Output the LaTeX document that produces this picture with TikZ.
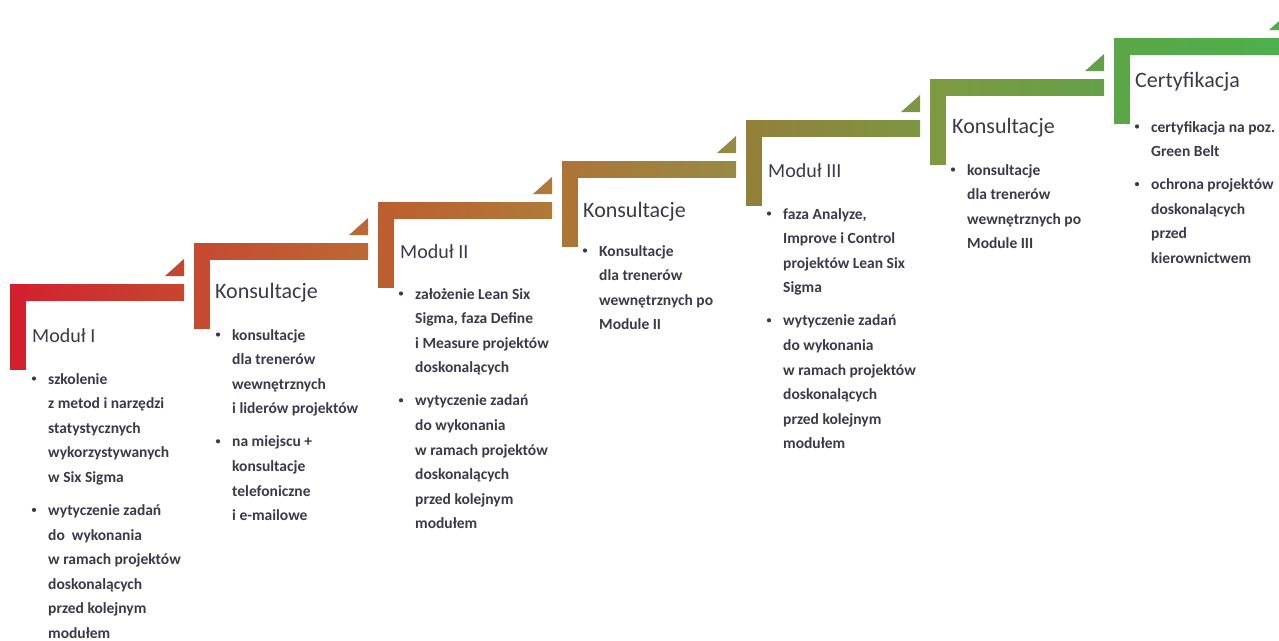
\documentclass[tikz,border=0pt]{standalone}
\usepackage{fontspec}
\setmainfont{Carlito}
\definecolor{textc}{HTML}{3A3A4A}
\definecolor{c1L}{HTML}{D2202F}\definecolor{c1R}{HTML}{C5472F}
\definecolor{c2L}{HTML}{C54A30}\definecolor{c2R}{HTML}{BC6835}
\definecolor{c3L}{HTML}{BC5E30}\definecolor{c3R}{HTML}{AF7A38}
\definecolor{c4L}{HTML}{AC7536}\definecolor{c4R}{HTML}{978A45}
\definecolor{c5L}{HTML}{928039}\definecolor{c5R}{HTML}{7E9543}
\definecolor{c6L}{HTML}{7E9A40}\definecolor{c6R}{HTML}{64A048}
\definecolor{c7L}{HTML}{5BA646}\definecolor{c7R}{HTML}{4CB04E}
\tikzset{
  txt/.style={inner sep=0pt, text=textc, font=\fontsize{15.5}{24.6}\selectfont\bfseries},
  head/.style={inner sep=0pt, anchor=base west, text=textc, font=\fontsize{20}{22}\selectfont},
  headk/.style={head, font=\fontsize{22}{24}\selectfont},
  bdot/.style={circle, fill=textc, inner sep=0pt, minimum size=4.2pt},
}
\newcommand\stepbar[4]{%
  \shade[left color=#3, right color=#4] (#1,#2) rectangle ++(174,16);
  \fill[#3] (#1,#2) rectangle ++(16,86);
  \fill[#4] (#1+155,#2-8) -- ++(19,0) -- ++(0,-17) -- cycle;
}
\newcommand\bul[4]{%
  \node[txt, anchor=base west] (#1) at (#2,#3) {\parbox[t]{170pt}{\raggedright #4}};
  \node[bdot] (#1-b) at ([xshift=-14pt,yshift=5.5pt]#1.base west) {};
}
\begin{document}
\begin{tikzpicture}[x=1pt,y=-1pt]
\fill[white] (0,0) rectangle (1279,640);
\useasboundingbox (0,0) rectangle (1279,640);
\clip (0,0) rectangle (1279,640);
\stepbar{10}{284}{c1L}{c1R}
\stepbar{194}{243}{c2L}{c2R}
\stepbar{378}{202}{c3L}{c3R}
\stepbar{562}{161}{c4L}{c4R}
\stepbar{746}{120}{c5L}{c5R}
\stepbar{930}{79}{c6L}{c6R}
\stepbar{1114}{38}{c7L}{c7R}

\node[head] (h1) at (32,342) {Moduł I};
\node[headk] (h2) at (215,298) {Konsultacje};
\node[head] (h3) at (400,258) {Moduł II};
\node[headk] (h4) at (583,217) {Konsultacje};
\node[head] (h5) at (768,177) {Moduł III};
\node[headk] (h6) at (952,133) {Konsultacje};
\node[headk] (h7) at (1135,87) {Certyfikacja};

\bul{s1a}{48}{384}{szkolenie\\z metod i narzędzi\\statystycznych\\wykorzystywanych\\w Six Sigma}
\bul{s1b}{48}{515.4}{wytyczenie zadań\\do\ \ wykonania\\w ramach projektów\\doskonalących\\przed kolejnym\\modułem}
\bul{s2a}{232}{340}{konsultacje\\dla trenerów\\wewnętrznych\\i liderów projektów}
\bul{s2b}{232}{446.8}{na miejscu +\\konsultacje\\telefoniczne\\i e-mailowe}
\bul{s3a}{415}{299}{założenie Lean Six\\Sigma, faza Define\\i Measure projektów\\doskonalących}
\bul{s3b}{415}{405.8}{wytyczenie zadań\\do wykonania\\w ramach projektów\\doskonalących\\przed kolejnym\\modułem}
\bul{s4a}{599}{256}{Konsultacje\\dla trenerów\\wewnętrznych po\\Module II}
\bul{s5a}{783}{219}{faza Analyze,\\Improve i Control\\projektów Lean Six\\Sigma}
\bul{s5b}{783}{325.8}{wytyczenie zadań\\do wykonania\\w ramach projektów\\doskonalących\\przed kolejnym\\modułem}
\bul{s6a}{967}{175}{konsultacje\\dla trenerów\\wewnętrznych po\\Module III}
\bul{s7a}{1151}{132}{certyfikacja na poz.\\Green Belt}
\bul{s7b}{1151}{189.6}{ochrona projektów\\doskonalących\\przed\\kierownictwem}
\end{tikzpicture}
\end{document}
